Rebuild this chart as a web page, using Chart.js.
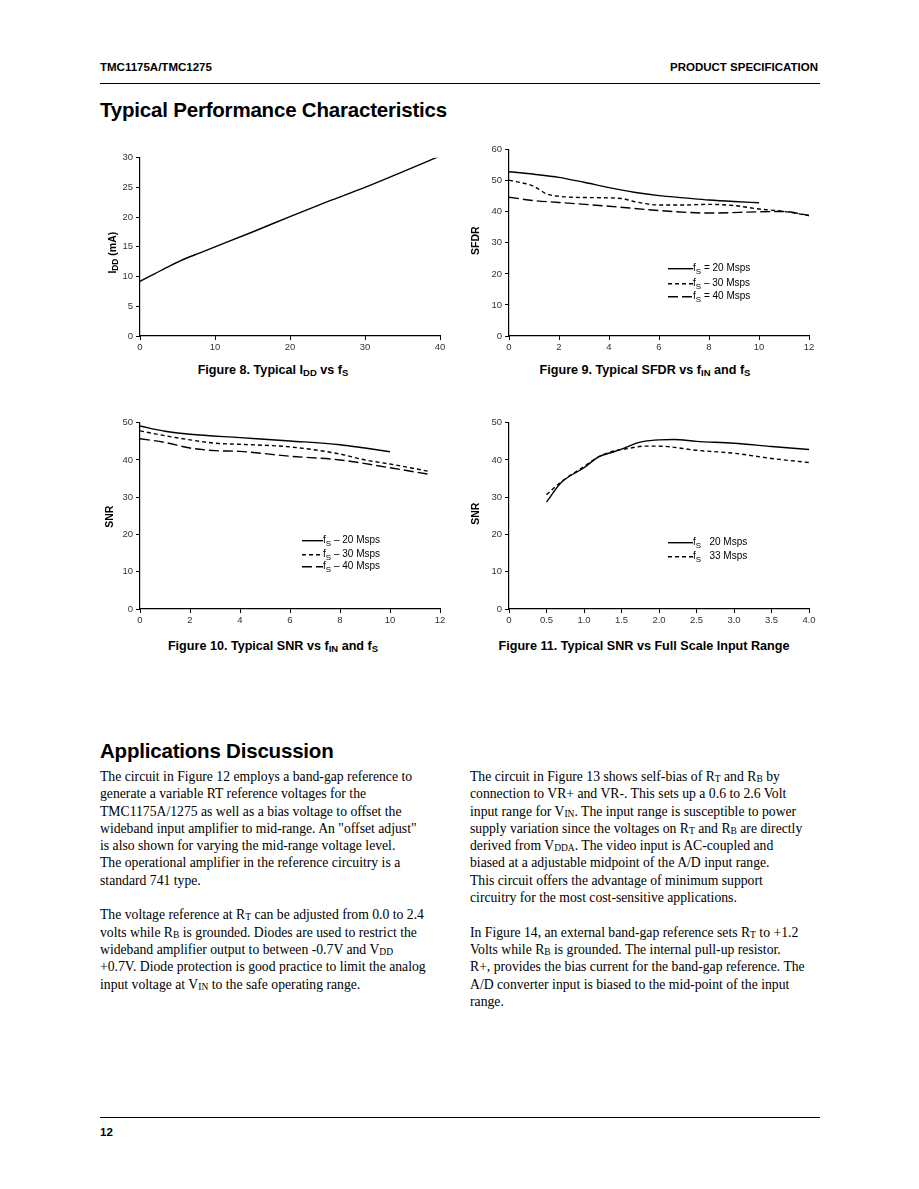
<!DOCTYPE html>
<html>
<head>
<meta charset="utf-8">
<title>TMC1175A/TMC1275 - Typical Performance Characteristics</title>
<script src="https://cdn.jsdelivr.net/npm/chart.js@4.4.0/dist/chart.umd.min.js"></script>
<style>
  body { margin: 0; background: #fff; }
  #page { position: relative; width: 919px; height: 1189px; font-family: "Liberation Sans", Arial, sans-serif; color: #000; }
  .abs { position: absolute; white-space: nowrap; }
  .hdr { font-size: 11.5px; font-weight: bold; top: 61px; }
  .rule { position: absolute; left: 100px; width: 720px; height: 0; border-top: 1px solid #000; }
  .h1 { font-size: 20.5px; font-weight: bold; letter-spacing: -0.2px; }
  .cap { font-size: 12.6px; font-weight: bold; transform: translateX(-50%); }
  .cap sub { font-size: 9.5px; vertical-align: -2px; line-height: 0; }
  .box { position: absolute; }
  .col { position: absolute; top: 768px; font-family: "Liberation Serif", "Times New Roman", serif; font-size: 13.7px; line-height: 17.3px; white-space: nowrap; }
  .col p { margin: 0 0 17.3px 0; }
  .s { font-size: 9.5px; vertical-align: -1px; line-height: 0; }
</style>
</head>
<body>
<div id="page">
  <div class="abs hdr" style="left:100px;">TMC1175A/TMC1275</div>
  <div class="abs hdr" style="right:101px;">PRODUCT SPECIFICATION</div>
  <div class="rule" style="top:83px;"></div>
  <div class="abs h1" style="left:100px; top:98px;">Typical Performance Characteristics</div>

  <div class="box" style="left:95px; top:149px; width:357px; height:207px;"><canvas id="fig8"></canvas></div>
  <div class="box" style="left:464px; top:141px; width:357px; height:215px;"><canvas id="fig9"></canvas></div>
  <div class="box" style="left:95px; top:414px; width:357px; height:215px;"><canvas id="fig10"></canvas></div>
  <div class="box" style="left:464px; top:414px; width:357px; height:215px;"><canvas id="fig11"></canvas></div>

  <div class="abs cap" style="left:273px; top:363px;">Figure 8. Typical I<sub>DD</sub> vs f<sub>S</sub></div>
  <div class="abs cap" style="left:645px; top:363px;">Figure 9. Typical SFDR vs f<sub>IN</sub> and f<sub>S</sub></div>
  <div class="abs cap" style="left:273px; top:639px;">Figure 10. Typical SNR vs f<sub>IN</sub> and f<sub>S</sub></div>
  <div class="abs cap" style="left:644px; top:639px;">Figure 11. Typical SNR vs Full Scale Input Range</div>

  <div class="abs h1" style="left:100px; top:739px;">Applications Discussion</div>

  <div class="col" style="left:100px;">
    <p>The circuit in Figure 12 employs a band-gap reference to<br>
    generate a variable RT reference voltages for the<br>
    TMC1175A/1275 as well as a bias voltage to offset the<br>
    wideband input amplifier to mid-range. An "offset adjust"<br>
    is also shown for varying the mid-range voltage level.<br>
    The operational amplifier in the reference circuitry is a<br>
    standard 741 type.</p>
    <p>The voltage reference at R<span class="s">T</span> can be adjusted from 0.0 to 2.4<br>
    volts while R<span class="s">B</span> is grounded. Diodes are used to restrict the<br>
    wideband amplifier output to between -0.7V and V<span class="s">DD</span><br>
    +0.7V. Diode protection is good practice to limit the analog<br>
    input voltage at V<span class="s">IN</span> to the safe operating range.</p>
  </div>
  <div class="col" style="left:470px;">
    <p>The circuit in Figure 13 shows self-bias of R<span class="s">T</span> and R<span class="s">B</span> by<br>
    connection to VR+ and VR-. This sets up a 0.6 to 2.6 Volt<br>
    input range for V<span class="s">IN</span>. The input range is susceptible to power<br>
    supply variation since the voltages on R<span class="s">T</span> and R<span class="s">B</span> are directly<br>
    derived from V<span class="s">DDA</span>. The video input is AC-coupled and<br>
    biased at a adjustable midpoint of the A/D input range.<br>
    This circuit offers the advantage of minimum support<br>
    circuitry for the most cost-sensitive applications.</p>
    <p>In Figure 14, an external band-gap reference sets R<span class="s">T</span> to +1.2<br>
    Volts while R<span class="s">B</span> is grounded. The internal pull-up resistor.<br>
    R+, provides the bias current for the band-gap reference. The<br>
    A/D converter input is biased to the mid-point of the input<br>
    range.</p>
  </div>

  <div class="rule" style="top:1117px;"></div>
  <div class="abs" style="left:100px; top:1126px; font-size:11.5px; font-weight:bold;">12</div>
</div>

<script>
// ---- Figure 8: IDD vs fS ----
const fig8Fs  = [0, 2, 4, 6, 8, 10, 15, 20, 25, 30, 35, 40];
const fig8Idd = [9.2, 10.5, 11.8, 13.0, 14.0, 15.0, 17.5, 20.1, 22.6, 25.0, 27.6, 30.3];

// ---- Figure 9: SFDR vs fIN ----
const fig9Fin20  = [0, 1, 2, 3, 4, 5, 6, 7, 8, 9, 10];
const fig9Sfdr20 = [52.9, 52.1, 51.1, 49.5, 47.8, 46.3, 45.2, 44.5, 43.8, 43.3, 42.9];
const fig9Fin30  = [0, 1, 1.5, 2, 3, 4.5, 5, 6, 7, 8, 9, 10, 11, 12];
const fig9Sfdr30 = [50.2, 48.2, 45.8, 45.0, 44.6, 44.3, 43.3, 42.2, 42.2, 42.4, 42.0, 40.9, 40.1, 38.8];
const fig9Fin40  = [0, 1, 2, 4, 6, 8, 10, 11, 12];
const fig9Sfdr40 = [44.7, 43.6, 43.0, 41.8, 40.4, 39.6, 40.0, 40.1, 38.8];

// ---- Figure 10: SNR vs fIN ----
const fig10Fin20 = [0, 1, 2, 4, 6, 8, 9, 10];
const fig10Snr20 = [49.1, 47.7, 46.9, 46.0, 45.1, 44.1, 43.2, 42.2];
const fig10Fin30 = [0, 1, 2, 3, 4, 6, 8, 9, 10, 11.6];
const fig10Snr30 = [47.8, 46.5, 45.4, 44.5, 44.2, 43.5, 41.6, 40.0, 38.9, 36.9];
const fig10Fin40 = [0, 1, 2, 3, 4, 6, 8, 10, 11.6];
const fig10Snr40 = [45.7, 44.7, 43.2, 42.5, 42.3, 41.0, 40.0, 37.9, 36.1];

// ---- Figure 11: SNR vs full scale input range ----
const fig11Range20 = [0.5, 0.7, 1.0, 1.2, 1.4, 1.5, 1.6, 1.7, 1.8, 2.0, 2.2, 2.5, 3.0, 3.5, 4.0];
const fig11Snr20   = [28.7, 34.0, 37.9, 40.9, 42.2, 42.9, 43.7, 44.5, 45.0, 45.4, 45.5, 45.0, 44.5, 43.6, 42.8];
const fig11Range33 = [0.5, 0.7, 1.0, 1.2, 1.4, 1.6, 1.8, 2.0, 2.5, 3.0, 3.5, 4.0];
const fig11Snr33   = [30.7, 34.2, 38.2, 40.9, 42.4, 43.1, 43.7, 43.7, 42.6, 41.8, 40.4, 39.3];

// legend labels ("_X" = subscript)
const fig9Labels  = ['f_S = 20 Msps', 'f_S \u2013 30 Msps', 'f_S = 40 Msps'];
const fig10Labels = ['f_S \u2013 20 Msps', 'f_S \u2013 30 Msps', 'f_S \u2013 40 Msps'];
const fig11Labels = ['f_S   20 Msps', 'f_S   33 Msps'];

const FONT = '"Liberation Sans", Arial, sans-serif';
const SOLID = [], SHORT = [4, 3], LONG = [10, 4];

function pts(xs, ys) {
  return xs.map((x, i) => ({ x: x, y: ys[i] }));
}

function series(label, xs, ys, dash) {
  return {
    label: label,
    data: pts(xs, ys),
    borderColor: '#000',
    borderWidth: 1.4,
    borderDash: dash,
    pointRadius: 0,
    tension: 0.4,
    cubicInterpolationMode: 'monotone',
    fill: false
  };
}

// text with "_SUB" subscripts
function richParts(s) {
  const out = [];
  const re = /_([A-Za-z]+)/g;
  let last = 0, m;
  while ((m = re.exec(s))) {
    if (m.index > last) out.push([s.slice(last, m.index), false]);
    out.push([m[1], true]);
    last = re.lastIndex;
  }
  if (last < s.length) out.push([s.slice(last), false]);
  return out;
}
function drawRich(ctx, s, x, y, size, weight, measureOnly) {
  let cx = x;
  for (const [t, sub] of richParts(s)) {
    const fs = sub ? size * 0.8 : size;
    ctx.font = weight + ' ' + fs + 'px ' + FONT;
    if (!measureOnly) ctx.fillText(t, cx, sub ? y + size * 0.3 : y);
    cx += ctx.measureText(t).width;
  }
  return cx - x;
}

const annotations = {
  id: 'annotations',
  afterDraw(chart, args, opts) {
    const ctx = chart.ctx, a = chart.chartArea;
    ctx.save();
    ctx.fillStyle = '#000';
    ctx.textBaseline = 'middle';
    // rotated y axis title
    if (opts.yTitle) {
      ctx.save();
      ctx.translate(a.left - opts.yTitleOffset, a.top + opts.yTitleY);
      ctx.rotate(-Math.PI / 2);
      const w = drawRich(ctx, opts.yTitle, 0, 0, 10.5, 'bold', true);
      drawRich(ctx, opts.yTitle, -w / 2, 0, 10.5, 'bold');
      ctx.restore();
    }
    // legend inside plot
    if (opts.legendRows) {
      chart.data.datasets.forEach((ds, i) => {
        const y = a.top + opts.legendRows[i];
        const x0 = a.left + opts.legendX;
        ctx.save();
        ctx.strokeStyle = '#000';
        ctx.lineWidth = 1.4;
        ctx.setLineDash(ds.borderDash || []);
        ctx.beginPath();
        ctx.moveTo(x0, y);
        ctx.lineTo(x0 + opts.legendLen, y);
        ctx.stroke();
        ctx.restore();
        drawRich(ctx, ds.label, x0 + opts.legendLen, y, 10, 'normal');
      });
    }
    ctx.restore();
  }
};

function xAxis(min, max, step, cb) {
  return {
    type: 'linear', min: min, max: max,
    ticks: { stepSize: step, color: '#333', font: { family: FONT, size: 9.5 }, padding: 2, maxRotation: 0,
             callback: cb || (v => v) },
    grid: { drawOnChartArea: false, drawTicks: true, tickLength: 4, color: '#000' },
    border: { display: true, color: '#000', width: 1.2 },
    afterFit(s) { s.height = 20; }
  };
}
function yAxis(max, step) {
  return {
    min: 0, max: max,
    ticks: { stepSize: step, color: '#333', font: { family: FONT, size: 9.5 }, padding: 3 },
    grid: { drawOnChartArea: false, drawTicks: true, tickLength: 4, color: '#000' },
    border: { display: true, color: '#000', width: 1.2 },
    afterFit(s) { s.width = 45; }
  };
}

function makeChart(id, datasets, xs, ys, ann) {
  return new Chart(document.getElementById(id), {
    type: 'line',
    data: { datasets: datasets },
    options: {
      responsive: true,
      maintainAspectRatio: false,
      animation: false,
      layout: { padding: { top: 8, right: 12, left: 0, bottom: 0 } },
      scales: { x: xs, y: ys },
      plugins: { legend: { display: false }, tooltip: { enabled: false }, annotations: ann }
    },
    plugins: [annotations]
  });
}

makeChart('fig8',
  [series('IDD', fig8Fs, fig8Idd, SOLID)],
  xAxis(0, 40, 10), yAxis(30, 5),
  { yTitle: 'I_DD (mA)', yTitleOffset: 27, yTitleY: 95 });

makeChart('fig9',
  [series(fig9Labels[0], fig9Fin20, fig9Sfdr20, SOLID),
   series(fig9Labels[1], fig9Fin30, fig9Sfdr30, SHORT),
   series(fig9Labels[2], fig9Fin40, fig9Sfdr40, LONG)],
  xAxis(0, 12, 2), yAxis(60, 10),
  { yTitle: 'SFDR', yTitleOffset: 33, yTitleY: 91, legendX: 159, legendLen: 25, legendRows: [119, 134, 147] });

makeChart('fig10',
  [series(fig10Labels[0], fig10Fin20, fig10Snr20, SOLID),
   series(fig10Labels[1], fig10Fin30, fig10Snr30, SHORT),
   series(fig10Labels[2], fig10Fin40, fig10Snr40, LONG)],
  xAxis(0, 12, 2), yAxis(50, 10),
  { yTitle: 'SNR', yTitleOffset: 30, yTitleY: 94, legendX: 162, legendLen: 21, legendRows: [118, 132, 144] });

makeChart('fig11',
  [series(fig11Labels[0], fig11Range20, fig11Snr20, SOLID),
   series(fig11Labels[1], fig11Range33, fig11Snr33, SHORT)],
  xAxis(0, 4, 0.5, v => v === 0 ? '0' : v.toFixed(1)), yAxis(50, 10),
  { yTitle: 'SNR', yTitleOffset: 33, yTitleY: 91, legendX: 159, legendLen: 25, legendRows: [120, 134] });
</script>
</body>
</html>
